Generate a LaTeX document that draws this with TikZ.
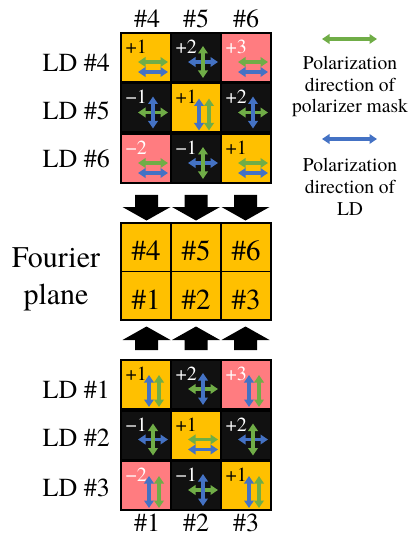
\documentclass[tikz,border=0pt]{standalone}
\usepackage{fontspec}
\setmainfont{texgyretermes}[Extension=.otf,UprightFont=*-regular,
  BoldFont=*-bold,ItalicFont=*-italic,BoldItalicFont=*-bolditalic]
\usetikzlibrary{arrows.meta}
\definecolor{cellyellow}{HTML}{FFC000}
\definecolor{cellpink}{HTML}{FF7C80}
\definecolor{cellblack}{HTML}{111111}
\definecolor{polgreen}{HTML}{70AD47}
\definecolor{polblue}{HTML}{4472C4}

% polarization patterns inside one cell (origin = cell's top-left corner)
\newcommand\patH{\draw[pol,polgreen] (17,29) -- (47,29);
  \draw[pol,polblue] (17,39) -- (47,39);}
\newcommand\patV{\draw[pol,polblue] (28,15) -- (28,47);
  \draw[pol,polgreen] (38,15) -- (38,47);}
\newcommand\patXbg{\draw[pol,polblue] (17,29) -- (47,29);
  \draw[pol,polgreen] (32,13) -- (32,45);}
\newcommand\patXgb{\draw[pol,polgreen] (17,29) -- (47,29);
  \draw[pol,polblue] (32,13) -- (32,45);}

% one laser-diode cell: name, x0, y0, fill, text colour, label, pattern
\newcommand\ldcell[7]{%
  \node[cellbox,fill=#4,anchor=north west] (#1) at (#2,#3) {};
  \node[celllabel,text=#5,anchor=base west] (#1-lab)
    at ([shift={(4.5,20.5)}]#1.north west) {#6};
  \begin{scope}[shift={(#1.north west)}]#7\end{scope}}

\begin{document}
\begin{tikzpicture}[x=1bp,y=-1bp,
  cellbox/.style={draw=black,line width=1.8bp,minimum width=50bp,
    minimum height=49bp,inner sep=0pt,outer sep=0pt},
  stripbox/.style={draw=black,line width=2bp,minimum width=150bp,
    minimum height=49bp,inner sep=0pt,outer sep=0pt},
  fourcell/.style={draw=black,line width=1.8bp,fill=cellyellow,
    minimum width=50bp,minimum height=48.5bp,inner sep=0pt,outer sep=0pt},
  celllabel/.style={inner sep=0pt,font=\fontsize{20bp}{22bp}\selectfont},
  biglabel/.style={inner sep=0pt,font=\fontsize{26bp}{30bp}\selectfont},
  gridlabel/.style={inner sep=0pt,font=\fontsize{29bp}{33bp}\selectfont},
  fourlabel/.style={inner sep=0pt,font=\fontsize{30bp}{36bp}\selectfont},
  legendtext/.style={inner sep=0pt,font=\fontsize{19.5bp}{21.5bp}\selectfont},
  pol/.style={line width=3.1bp,
    {Triangle[width=9.5bp,length=7.5bp]}-{Triangle[width=9.5bp,length=7.5bp]}},
  bigarrow/.style={fill=black,draw=none}]

\useasboundingbox (0,0) rectangle (409,536);

% ---- upper stack: LD #4 .. #6 ----
\ldcell{a1}{121}{33}{cellyellow}{black}{+1}{\patH}
\ldcell{a2}{171}{33}{cellblack}{white}{+2}{\patXbg}
\ldcell{a3}{221}{33}{cellpink}{white}{+3}{\patH}
\ldcell{b1}{121}{83.5}{cellblack}{white}{−1}{\patXgb}
\ldcell{b2}{171}{83.5}{cellyellow}{black}{+1}{\patV}
\ldcell{b3}{221}{83.5}{cellblack}{white}{+2}{\patXgb}
\ldcell{c1}{121}{134}{cellpink}{white}{−2}{\patH}
\ldcell{c2}{171}{134}{cellblack}{white}{−1}{\patXbg}
\ldcell{c3}{221}{134}{cellyellow}{black}{+1}{\patH}
\node[stripbox,anchor=north west] (sa) at (121,33) {};
\node[stripbox,anchor=north west] (sb) at (121,83.5) {};
\node[stripbox,anchor=north west] (sc) at (121,134) {};

% ---- lower stack: LD #1 .. #3 ----
\ldcell{d1}{121}{360}{cellyellow}{black}{+1}{\patV}
\ldcell{d2}{171}{360}{cellblack}{white}{+2}{\patXgb}
\ldcell{d3}{221}{360}{cellpink}{white}{+3}{\patV}
\ldcell{e1}{121}{410.5}{cellblack}{white}{−1}{\patXbg}
\ldcell{e2}{171}{410.5}{cellyellow}{black}{+1}{\patH}
\ldcell{e3}{221}{410.5}{cellblack}{white}{+2}{\patXbg}
\ldcell{g1}{121}{461}{cellpink}{white}{−2}{\patV}
\ldcell{g2}{171}{461}{cellblack}{white}{−1}{\patXgb}
\ldcell{g3}{221}{461}{cellyellow}{black}{+1}{\patV}
\node[stripbox,anchor=north west] (sd) at (121,360) {};
\node[stripbox,anchor=north west] (se) at (121,410.5) {};
\node[stripbox,anchor=north west] (sg) at (121,461) {};

% ---- Fourier plane grid ----
\node[fourcell,anchor=north west] (f4) at (121,223) {};
\node[fourcell,anchor=north west] (f5) at (171,223) {};
\node[fourcell,anchor=north west] (f6) at (221,223) {};
\node[fourcell,anchor=north west] (f1) at (121,271.5) {};
\node[fourcell,anchor=north west] (f2) at (171,271.5) {};
\node[fourcell,anchor=north west] (f3) at (221,271.5) {};
\node[gridlabel,anchor=base] (f4-lab) at (146,260) {\#4};
\node[gridlabel,anchor=base] (f5-lab) at (196,260) {\#5};
\node[gridlabel,anchor=base] (f6-lab) at (246,260) {\#6};
\node[gridlabel,anchor=base] (f1-lab) at (146,309.5) {\#1};
\node[gridlabel,anchor=base] (f2-lab) at (196,309.5) {\#2};
\node[gridlabel,anchor=base] (f3-lab) at (246,309.5) {\#3};

% ---- block arrows into the Fourier plane ----
\foreach \cx in {146.5,196,245.5}{
  \fill[bigarrow] (\cx-11.5,195) -- (\cx+11.5,195) -- (\cx+11.5,207)
    -- (\cx+24,207) -- (\cx,220.5) -- (\cx-24,207) -- (\cx-11.5,207) -- cycle;
  \fill[bigarrow] (\cx-11.5,350) -- (\cx+11.5,350) -- (\cx+11.5,340)
    -- (\cx+24,340) -- (\cx,326.5) -- (\cx-24,340) -- (\cx-11.5,340) -- cycle;
}

% ---- column headers ----
\node[biglabel,anchor=base] (h4) at (147,28) {\#4};
\node[biglabel,anchor=base] (h5) at (196,28) {\#5};
\node[biglabel,anchor=base] (h6) at (246,28) {\#6};
\node[biglabel,anchor=base] (h1) at (147,531.5) {\#1};
\node[biglabel,anchor=base] (h2) at (196,531.5) {\#2};
\node[biglabel,anchor=base] (h3) at (246,531.5) {\#3};

% ---- row labels ----
\node[biglabel,anchor=base east] (l4) at (110,72) {LD \#4};
\node[biglabel,anchor=base east] (l5) at (110,120) {LD \#5};
\node[biglabel,anchor=base east] (l6) at (110,168) {LD \#6};
\node[biglabel,anchor=base east] (l1) at (110,398) {LD \#1};
\node[biglabel,anchor=base east] (l2) at (110,446) {LD \#2};
\node[biglabel,anchor=base east] (l3) at (110,496) {LD \#3};
\node[fourlabel,anchor=base] (fp1) at (56,267) {Fourier};
\node[fourlabel,anchor=base] (fp2) at (56,304) {plane};

% ---- legend ----
\coordinate (gl) at (322,39); \coordinate (gr) at (377,39);
\coordinate (bl) at (322,139); \coordinate (br) at (377,139);
\draw[pol,polgreen] (gl) -- (gr);
\draw[pol,polblue] (bl) -- (br);
\node[legendtext,anchor=base] (m1) at (350,70) {Polarization};
\node[legendtext,anchor=base] (m2) at (350,92) {direction of};
\node[legendtext,anchor=base] (m3) at (350,113) {polarizer mask};
\node[legendtext,anchor=base] (n1) at (350,172) {Polarization};
\node[legendtext,anchor=base] (n2) at (350,194) {direction of};
\node[legendtext,anchor=base] (n3) at (350,215) {LD};
\end{tikzpicture}
\end{document}
